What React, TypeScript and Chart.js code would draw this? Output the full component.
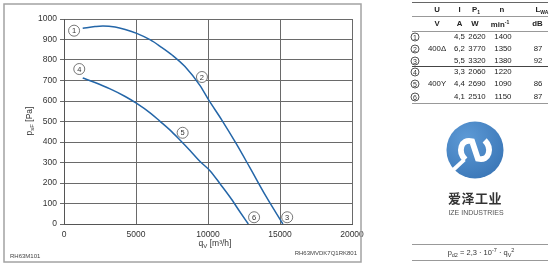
import React, { useEffect, useRef } from 'react';
import { Chart, registerables } from 'chart.js';

Chart.register(...registerables);

// ---------- data ----------
const xTickValues = [0, 5000, 10000, 15000, 20000];
const yTickValues = [0, 100, 200, 300, 400, 500, 600, 700, 800, 900, 1000];

// curve 1 -> 2 -> 3 (400Δ)
const curveDeltaQ = [1300, 2150, 2700, 3550, 4250, 5050, 6000, 6650, 7550, 8400, 9450, 10000, 10950, 11950, 12900, 14000, 15200];
const curveDeltaP = [955, 963, 966, 961, 949, 930, 898, 868, 822, 768, 675, 610, 508, 393, 276, 138, 0];

// curve 4 -> 5 -> 6 (400Y)
const curveStarQ = [1300, 2150, 3200, 4250, 5050, 6000, 6650, 7350, 8050, 8750, 9450, 10150, 10850, 11550, 12200, 12800];
const curveStarP = [712, 690, 659, 622, 588, 541, 502, 459, 410, 359, 305, 259, 195, 129, 61, 0];

// operating point markers
const markerNums = ['1', '2', '3', '4', '5', '6'];
const markerQ = [700, 9580, 15500, 1060, 8240, 13200];
const markerP = [943, 717, 33, 756, 445, 33];

// table
const tableNums = ['1', '2', '3', '4', '5', '6'];
const tableU = ['', '400Δ', '', '', '400Y', ''];
const tableI = ['4,5', '6,2', '5,5', '3,3', '4,4', '4,1'];
const tableP1 = ['2620', '3770', '3320', '2060', '2690', '2510'];
const tableN = ['1400', '1350', '1380', '1220', '1090', '1150'];
const tableL = ['', '87', '92', '', '86', '87'];

const FONT = '"Liberation Sans", Arial, Helvetica, sans-serif';
const CURVE_COLOR = '#2466a8';

const overlayPlugin = {
  id: 'overlay',
  afterDraw(chart: any) {
    const ctx = chart.ctx as CanvasRenderingContext2D;
    const xs = chart.scales.x;
    const ys = chart.scales.y;
    ctx.save();
    // outer frame
    ctx.strokeStyle = '#a3a3a3';
    ctx.lineWidth = 1.5;
    ctx.strokeRect(4, 4, 357, 258);

    // circled markers
    markerNums.forEach((n, i) => {
      const px = xs.getPixelForValue(markerQ[i]);
      const py = ys.getPixelForValue(markerP[i]);
      ctx.beginPath();
      ctx.arc(px, py, 5.5, 0, Math.PI * 2);
      ctx.fillStyle = '#fff';
      ctx.fill();
      ctx.lineWidth = 0.8;
      ctx.strokeStyle = '#555';
      ctx.stroke();
      ctx.fillStyle = '#333';
      ctx.font = `7.5px ${FONT}`;
      ctx.textAlign = 'center';
      ctx.textBaseline = 'middle';
      ctx.fillText(n, px, py + 0.5);
    });

    // y axis title: p_sF [Pa]
    ctx.save();
    ctx.translate(30, 121);
    ctx.rotate(-Math.PI / 2);
    ctx.fillStyle = '#333';
    ctx.textBaseline = 'middle';
    ctx.textAlign = 'left';
    const big = `8.5px ${FONT}`;
    const small = `6px ${FONT}`;
    ctx.font = big;
    const w1 = ctx.measureText('p').width;
    const w3 = ctx.measureText(' [Pa]').width;
    ctx.font = small;
    const w2 = ctx.measureText('sF').width;
    let sx = -(w1 + w2 + w3) / 2;
    ctx.font = big;
    ctx.fillText('p', sx, 0);
    sx += w1;
    ctx.font = small;
    ctx.fillText('sF', sx, 2.5);
    sx += w2;
    ctx.font = big;
    ctx.fillText(' [Pa]', sx, 0);
    ctx.restore();

    // x axis title: q_V [m³/h]
    ctx.fillStyle = '#333';
    ctx.textBaseline = 'middle';
    ctx.textAlign = 'left';
    ctx.font = big;
    const a1 = ctx.measureText('q').width;
    const a3 = ctx.measureText(' [m³/h]').width;
    ctx.font = small;
    const a2 = ctx.measureText('V').width;
    let tx = 215 - (a1 + a2 + a3) / 2;
    const ty = 244;
    ctx.font = big;
    ctx.fillText('q', tx, ty);
    tx += a1;
    ctx.font = small;
    ctx.fillText('V', tx, ty + 2.5);
    tx += a2;
    ctx.font = big;
    ctx.fillText(' [m³/h]', tx, ty);

    // drawing codes
    ctx.font = `6px ${FONT}`;
    ctx.fillStyle = '#444';
    ctx.textAlign = 'left';
    ctx.fillText('RH63M101', 10, 256);
    ctx.textAlign = 'right';
    ctx.fillText('RH63MVDK7Q1RK801', 357, 253);
    ctx.restore();
  },
};

const abs = (x: number, y: number, extra: any = {}): any => ({
  position: 'absolute',
  left: x,
  top: y,
  transform: 'translate(-50%, -50%)',
  whiteSpace: 'nowrap',
  lineHeight: 1,
  ...extra,
});

function Circled({ n, x, y }: { n: string; x: number; y: number }) {
  return (
    <div
      style={abs(x, y, {
        width: 9,
        height: 9,
        border: '0.8px solid #555',
        borderRadius: '50%',
        fontSize: 7,
        display: 'flex',
        alignItems: 'center',
        justifyContent: 'center',
        color: '#333',
        boxSizing: 'border-box',
      })}
    >
      {n}
    </div>
  );
}

function HLine({ y, color, w = 1 }: { y: number; color: string; w?: number }) {
  return <div style={{ position: 'absolute', left: 412, width: 136, top: y, height: w, background: color }} />;
}

const colX = { num: 415, u: 437, i: 459.5, p: 477, n: 503, l: 538 };
const rowY = [36.5, 49, 61, 71.5, 84, 96.5];

export default function App() {
  const canvasRef = useRef<HTMLCanvasElement | null>(null);

  useEffect(() => {
    if (!canvasRef.current) return;
    const chart = new Chart(canvasRef.current, {
      type: 'scatter',
      data: {
        datasets: [
          {
            data: curveDeltaQ.map((q, i) => ({ x: q, y: curveDeltaP[i] })),
            showLine: true,
            borderColor: CURVE_COLOR,
            borderWidth: 1.5,
            pointRadius: 0,
            cubicInterpolationMode: 'monotone',
          },
          {
            data: curveStarQ.map((q, i) => ({ x: q, y: curveStarP[i] })),
            showLine: true,
            borderColor: CURVE_COLOR,
            borderWidth: 1.5,
            pointRadius: 0,
            cubicInterpolationMode: 'monotone',
          },
        ],
      },
      options: {
        animation: false,
        responsive: false,
        devicePixelRatio: 1,
        layout: { padding: { left: 0, top: 19, right: 202, bottom: 0 } },
        plugins: { legend: { display: false }, tooltip: { enabled: false } },
        scales: {
          x: {
            type: 'linear',
            min: 0,
            max: 20000,
            afterBuildTicks: (scale: any) => {
              scale.ticks = xTickValues.map((v) => ({ value: v }));
            },
            afterFit: (scale: any) => {
              scale.height = 41;
            },
            ticks: {
              color: '#333',
              font: { family: FONT, size: 8.5 },
              padding: 6,
              maxRotation: 0,
              callback: (v: any) => String(v),
            },
            grid: { color: '#6a6a6a', lineWidth: 1, drawTicks: false },
            border: { color: '#555', width: 1 },
          },
          y: {
            type: 'linear',
            min: 0,
            max: 1000,
            afterBuildTicks: (scale: any) => {
              scale.ticks = yTickValues.map((v) => ({ value: v }));
            },
            afterFit: (scale: any) => {
              scale.width = 64;
            },
            ticks: {
              color: '#333',
              font: { family: FONT, size: 8.5 },
              padding: 3,
              callback: (v: any) => String(v),
            },
            grid: { color: '#6a6a6a', lineWidth: 1, drawTicks: true, tickLength: 4 },
            border: { color: '#555', width: 1 },
          },
        },
      },
      plugins: [overlayPlugin],
    } as any);
    return () => chart.destroy();
  }, []);

  const txt = { fontSize: 7.8, color: '#222' };
  const hdr = { fontSize: 7.8, color: '#222', fontWeight: 'bold' };

  return (
    <div
      style={{
        position: 'fixed',
        left: 0,
        top: 0,
        width: 554,
        height: 265,
        background: '#fff',
        fontFamily: FONT,
        overflow: 'hidden',
      }}
    >
      <canvas ref={canvasRef} width={554} height={265} style={{ position: 'absolute', left: 0, top: 0, width: 554, height: 265 }} />

      {/* table */}
      <HLine y={2} color="#666" />
      <div style={abs(colX.u, 9.5, hdr)}>U</div>
      <div style={abs(colX.i, 9.5, hdr)}>I</div>
      <div style={abs(colX.p - 1, 9.5, hdr)}>
        P<sub style={{ fontSize: 5, verticalAlign: -2 }}>1</sub>
      </div>
      <div style={abs(colX.n - 1, 9.5, hdr)}>n</div>
      <div style={abs(542, 9.5, hdr)}>
        L<sub style={{ fontSize: 5, verticalAlign: -2 }}>WA</sub>
      </div>
      <HLine y={16} color="#999" />
      <div style={abs(colX.u, 24, hdr)}>V</div>
      <div style={abs(colX.i, 24, hdr)}>A</div>
      <div style={abs(colX.p - 2, 24, hdr)}>W</div>
      <div style={abs(500, 24, hdr)}>
        min<sup style={{ fontSize: 5, verticalAlign: 3 }}>-1</sup>
      </div>
      <div style={abs(537.5, 24, hdr)}>dB</div>
      <HLine y={31} color="#999" />
      {tableNums.map((n, r) => (
        <React.Fragment key={n}>
          <Circled n={n} x={colX.num} y={rowY[r]} />
          {tableU[r] && <div style={abs(colX.u, rowY[r], txt)}>{tableU[r]}</div>}
          <div style={abs(colX.i, rowY[r], txt)}>{tableI[r]}</div>
          <div style={abs(colX.p, rowY[r], txt)}>{tableP1[r]}</div>
          <div style={abs(colX.n, rowY[r], txt)}>{tableN[r]}</div>
          {tableL[r] && <div style={abs(colX.l, rowY[r], txt)}>{tableL[r]}</div>}
        </React.Fragment>
      ))}
      <HLine y={66} color="#444" w={1.3} />
      <HLine y={103} color="#999" />

      {/* logo */}
      <svg style={{ position: 'absolute', left: 446, top: 121 }} width={58} height={58} viewBox="0 0 60 60">
        <defs>
          <radialGradient id="lg" cx="35%" cy="30%" r="75%">
            <stop offset="0%" stopColor="#5d9ad6" />
            <stop offset="100%" stopColor="#3c78b8" />
          </radialGradient>
        </defs>
        <circle cx={30} cy={30} r={29.5} fill="url(#lg)" />
        <path d="M6,52 L19,40" stroke="#fff" strokeWidth={4} fill="none" />
        <path d="M20,40 C12,32 15,18 27,21 L33,39 C45,42 48,28 40,20" stroke="#fff" strokeWidth={6} fill="none" strokeLinecap="butt" />
      </svg>
      <div style={abs(475, 197, { fontSize: 13, fontWeight: 'bold', color: '#333', fontFamily: '"Noto Sans CJK SC", sans-serif', letterSpacing: 0.5 })}>
        爱泽工业
      </div>
      <div style={abs(476, 212, { fontSize: 7, color: '#555' })}>IZE INDUSTRIES</div>

      {/* formula */}
      <HLine y={244} color="#999" />
      <div style={abs(481, 253, { fontSize: 7.5, color: '#333' })}>
        p<sub style={{ fontSize: 5.5, verticalAlign: -2 }}>d2</sub> = 2,3 · 10
        <sup style={{ fontSize: 5.5, verticalAlign: 3 }}>-7</sup> · q
        <sub style={{ fontSize: 5.5, verticalAlign: -2 }}>V</sub>
        <sup style={{ fontSize: 5.5, verticalAlign: 3 }}>2</sup>
      </div>
      <HLine y={260} color="#999" />
    </div>
  );
}
